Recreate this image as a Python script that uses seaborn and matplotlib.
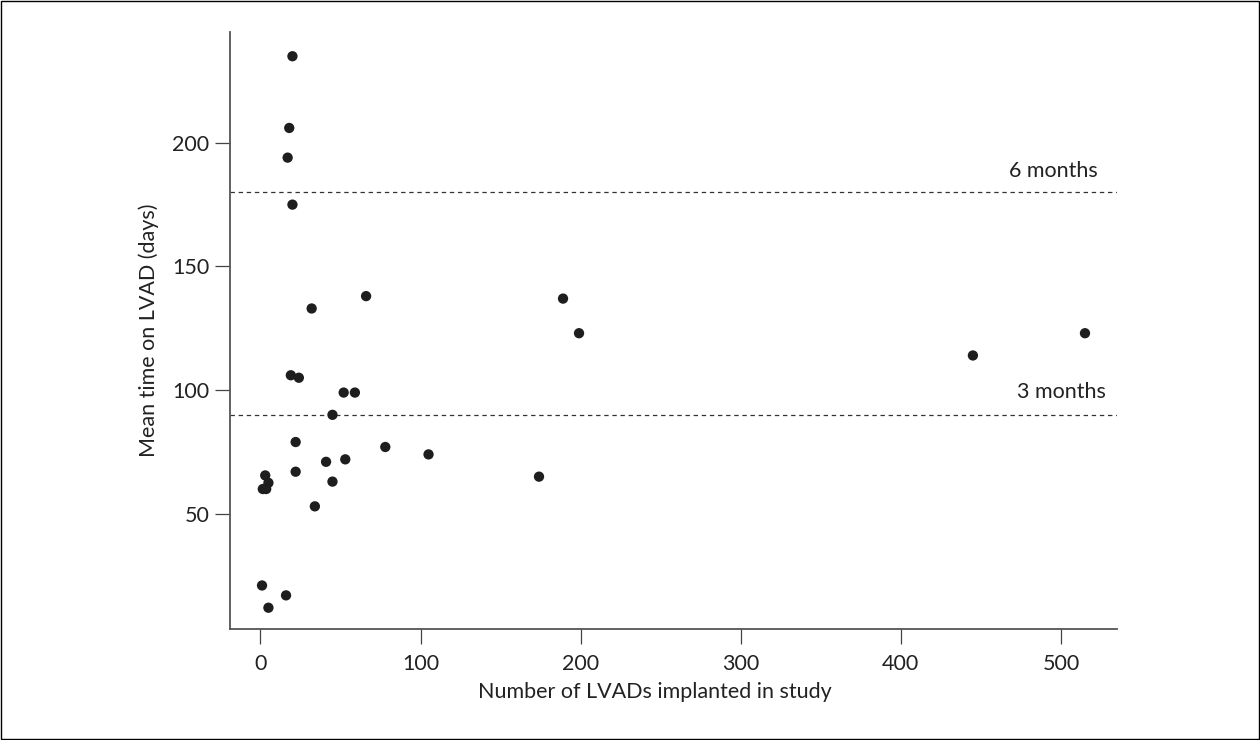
import pandas as pd
import numpy as np
import seaborn as sns
import matplotlib.pyplot as plt
from matplotlib.patches import Rectangle

sns.set_theme(style="ticks")
plt.rcParams['font.family'] = ['Lato', 'DejaVu Sans']

# values
n_lvads = [20, 18, 17, 20, 66, 32, 189, 199, 445, 515,
           19, 24, 52, 59, 45, 22, 78, 41, 53, 22,
           45, 3, 5, 1.5, 3.6, 105, 174, 34, 1, 16, 5]
mean_days = [235, 206, 194, 175, 138, 133, 137, 123, 114, 123,
             106, 105, 99, 99, 90, 79, 77, 71, 72, 67,
             63, 65.5, 62.5, 60, 60, 74, 65, 53, 21, 17, 12]
ref_days = [180, 90]
ref_labels = ["6 months", "3 months"]

df = pd.DataFrame({"n": n_lvads, "days": mean_days})

fig = plt.figure(figsize=(12.6, 7.4), dpi=100)
ax = fig.add_axes([230 / 1260, 111 / 740, 887 / 1260, 597 / 740])

sns.scatterplot(data=df, x="n", y="days", ax=ax, s=55, color="#1e1e1e",
                edgecolor="none", zorder=3)

# reference lines with their labels
for d, lab, xr, off in zip(ref_days, ref_labels, [523, 528], [6, 7]):
    ax.axhline(d, color="#333333", lw=0.9, ls=(0, (3.5, 3)), zorder=1)
    ax.text(xr, d + off, lab, ha="right", va="baseline", fontsize=15.5,
            color="#222222")

ax.set_xlim(-19, 535)
ax.set_ylim(3.4, 244.8)
ax.set_xticks([0, 100, 200, 300, 400, 500])
ax.set_yticks([50, 100, 150, 200])
ax.set_xlabel("Number of LVADs implanted in study", fontsize=15.5,
              color="#222222")
ax.set_ylabel("Mean time on LVAD (days)", fontsize=15.5, color="#222222",
              labelpad=9)
ax.xaxis.set_label_coords(0.479, -0.088)
ax.tick_params(axis="both", labelsize=15.5, labelcolor="#222222",
               color="#444444", length=11, width=0.9)
ax.tick_params(axis="x", pad=7)
ax.tick_params(axis="y", pad=4)
sns.despine(ax=ax)
for sp in ["left", "bottom"]:
    ax.spines[sp].set_color("#555555")
    ax.spines[sp].set_linewidth(1.3)

fig.patches.append(Rectangle((0.001, 0.001), 0.998, 0.997,
                             transform=fig.transFigure, fill=False,
                             edgecolor="#000000", lw=1.0))

fig.savefig("out.png", dpi=100)
